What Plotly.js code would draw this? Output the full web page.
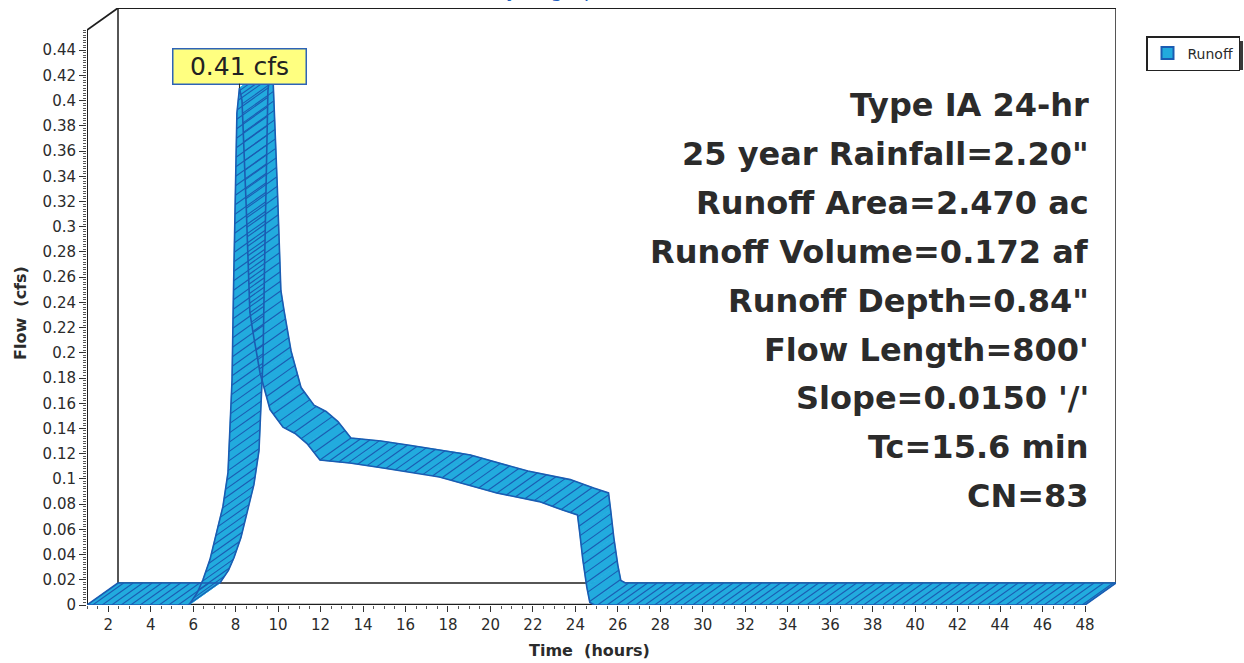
<!DOCTYPE html>
<html>
<head>
<meta charset="utf-8">
<script src="https://cdn.plot.ly/plotly-3.0.1.min.js"></script>
<style>
html,body{margin:0;padding:0;background:#fff;}
#chart{width:1244px;height:663px;}
</style>
</head>
<body>
<div id="chart"></div>
<script>
// ---------------- data ----------------
const timeHours = [1.0, 5.8, 6.2, 6.46, 6.79, 7.12, 7.4, 7.64, 7.83, 7.9, 7.97, 8.06, 8.18, 8.3, 8.5, 8.67, 8.82, 9.15, 9.62, 10.23, 10.8, 11.36, 11.97, 12.5, 13.38, 14.8, 17.15, 17.6, 20.3, 22.3, 23.4, 24.1, 24.2, 24.35, 24.54, 24.68, 24.9, 48.0];
const runoffCfs = [0, 0, 0.010, 0.020, 0.036, 0.059, 0.078, 0.105, 0.178, 0.25, 0.31, 0.39, 0.41, 0.40, 0.315, 0.232, 0.216, 0.184, 0.155, 0.141, 0.136, 0.128, 0.115, 0.114, 0.1126, 0.109, 0.103, 0.1015, 0.0888, 0.082, 0.0753, 0.0714, 0.058, 0.036, 0.014, 0.002, 0, 0];
const seriesName = "Runoff";
const xTickVals = [2,4,6,8,10,12,14,16,18,20,22,24,26,28,30,32,34,36,38,40,42,44,46,48];
const xTickText = ["2","4","6","8","10","12","14","16","18","20","22","24","26","28","30","32","34","36","38","40","42","44","46","48"];
const yTickVals = [0,0.02,0.04,0.06,0.08,0.1,0.12,0.14,0.16,0.18,0.2,0.22,0.24,0.26,0.28,0.3,0.32,0.34,0.36,0.38,0.4,0.42,0.44];
const yTickText = ["0","0.02","0.04","0.06","0.08","0.1","0.12","0.14","0.16","0.18","0.2","0.22","0.24","0.26","0.28","0.3","0.32","0.34","0.36","0.38","0.4","0.42","0.44"];
const infoLines = ["Type IA 24-hr", "25 year Rainfall=2.20\"", "Runoff Area=2.470 ac", "Runoff Volume=0.172 af", "Runoff Depth=0.84\"", "Flow Length=800'", "Slope=0.0150 '/'", "Tc=15.6 min", "CN=83"];
const chartTitle = "Hydrograph";
const xTitle = "Time\u00a0 (hours)";
const yTitle = "Flow\u00a0 (cfs)";
const peakUnit = " cfs";

// ---------------- geometry / style ----------------
const W = 1244, H = 663, ML = 87, MR = 128, MT = 8, MB = 58;
const plotW = W - ML - MR, plotH = H - MT - MB;
const X0 = 1, X1 = 48, YTOP = 0.456;
const DEPTH_X = 31, DEPTH_Y = 22;       // 3D depth offset in px
const sx = (plotW - DEPTH_X) / (X1 - X0); // px per hour
const sy = (plotH - DEPTH_Y) / YTOP;      // px per cfs
const DX = DEPTH_X / sx, DY = DEPTH_Y / sy;
const HATCH = 9.5;
const FILL = '#22abde', EDGE = '#1b5cb2', INK = '#2b2b2b';
const px2x = X => (X - ML) / plotW;
const px2y = Y => (MT + plotH - Y) / plotH;

const n = timeHours.length;
const traces = [];
// ribbon faces, one quad per segment
for (let i = 0; i < n - 1; i++) {
  traces.push({type:'scatter', mode:'lines',
    x:[timeHours[i], timeHours[i+1], timeHours[i+1] + DX, timeHours[i] + DX, timeHours[i]],
    y:[runoffCfs[i], runoffCfs[i+1], runoffCfs[i+1] + DY, runoffCfs[i] + DY, runoffCfs[i]],
    fill:'toself', fillcolor:FILL, line:{color:FILL, width:0.8}, hoverinfo:'skip', showlegend:false});
}
// hatch lines along depth direction, evenly spaced along the front curve
const hx = [], hy = [];
let pos = 0, next = HATCH * 0.6;
for (let i = 0; i < n - 1; i++) {
  const ddx = (timeHours[i+1] - timeHours[i]) * sx, ddy = (runoffCfs[i+1] - runoffCfs[i]) * sy;
  const len = Math.hypot(ddx, ddy);
  while (next <= pos + len) {
    const f = (next - pos) / len;
    const tt = timeHours[i] + f * (timeHours[i+1] - timeHours[i]);
    const vv = runoffCfs[i] + f * (runoffCfs[i+1] - runoffCfs[i]);
    hx.push(tt, tt + DX, null); hy.push(vv, vv + DY, null);
    next += HATCH;
  }
  pos += len;
}
const backX = timeHours.map(v => v + DX), backY = runoffCfs.map(v => v + DY);
const capX = [timeHours[0], backX[0], null, timeHours[n-1], backX[n-1]];
const capY = [runoffCfs[0], backY[0], null, runoffCfs[n-1], backY[n-1]];

const yMinor = []; for (let k = 0; k <= 228; k++) yMinor.push(+(k * 0.002).toFixed(3));
const xMinor = []; for (let k = 2; k <= 96; k++) xMinor.push(k * 0.5);

let imax = 0; runoffCfs.forEach((v, i) => { if (v > runoffCfs[imax]) imax = i; });

traces.push(
  {type:'scatter', mode:'lines', x:hx, y:hy, line:{color:EDGE, width:1.1}, hoverinfo:'skip', showlegend:false},
  {type:'scatter', mode:'lines', x:backX, y:backY, line:{color:EDGE, width:1.6}, hoverinfo:'skip', showlegend:false},
  {type:'scatter', mode:'lines', x:timeHours, y:runoffCfs, line:{color:EDGE, width:1.6}, hoverinfo:'skip', showlegend:false},
  {type:'scatter', mode:'lines', x:capX, y:capY, line:{color:EDGE, width:1.6}, hoverinfo:'skip', showlegend:false},
  {type:'scatter', mode:'markers', x:[null], y:[null], name:seriesName,
   marker:{symbol:'square', size:11, color:FILL, line:{color:EDGE, width:1.5}}, showlegend:true}
);

const frame = (x0, y0, x1, y1, w) => ({type:'line', xref:'x', yref:'y', x0, y0, x1, y1, layer:'below', line:{color:'#1e1e1e', width:w}});
const shapes = [
  frame(X0 + DX, DY, X0 + DX, YTOP + DY, 1.5),
  frame(X0 + DX, YTOP + DY, X1 + DX, YTOP + DY, 1.8),
  frame(X1 + DX, YTOP + DY, X1 + DX, DY, 1.5),
  frame(X0 + DX, DY, X1 + DX, DY, 1.5),
  frame(X0, 0, X1, 0, 2.5),
  frame(X0, 0, X0, YTOP, 2),
  frame(X0, YTOP, X0 + DX, YTOP + DY, 1.8),
  // legend shadow
  {type:'rect', xref:'paper', yref:'paper', x0:px2x(1151), x1:px2x(1243), y0:px2y(70), y1:px2y(41),
   fillcolor:'#3a3a3a', line:{width:0}, layer:'above'}
];

const annotations = [
  {xref:'paper', yref:'paper', x:px2x(550), y:1, yanchor:'bottom', xanchor:'center', showarrow:false, yshift:4,
   text:chartTitle, font:{size:20, color:'#1f5fbf'}},
  {xref:'paper', yref:'paper', x:px2x(589), y:px2y(650), xanchor:'center', yanchor:'middle', showarrow:false,
   text:xTitle, font:{size:16, color:INK, weight:'bold'}},
  {xref:'paper', yref:'paper', x:px2x(20), y:px2y(313), xanchor:'center', yanchor:'middle', showarrow:false,
   textangle:-90, text:yTitle, font:{size:16, color:INK, weight:'bold'}},
  {xref:'x', yref:'y', x:timeHours[imax], y:runoffCfs[imax], text:runoffCfs[imax].toFixed(2) + peakUnit,
   showarrow:true, arrowhead:0, arrowwidth:1, arrowcolor:'#222', ax:0, ay:-22, standoff:0,
   bgcolor:'#ffff80', bordercolor:'#2d63b8', borderwidth:1.5, borderpad:1, width:130, height:32,
   font:{size:25, color:'#222'}}
];
infoLines.forEach((s, i) => {
  annotations.push({xref:'paper', yref:'paper', x:px2x(1091), y:px2y(105 + i * 48.9), xanchor:'right', yanchor:'middle',
    showarrow:false, text:s, font:{size:32, color:INK, weight:'bold'}});
});

const layout = {
  width:W, height:H, margin:{l:ML, r:MR, t:MT, b:MB, pad:0, autoexpand:false},
  paper_bgcolor:'#fff', plot_bgcolor:'#fff',
  font:{family:'DejaVu Sans, Arial, sans-serif', color:INK},
  showlegend:true,
  legend:{x:px2x(1146), y:px2y(36), xanchor:'left', yanchor:'top', bgcolor:'#fff', bordercolor:'#222', borderwidth:1.5,
    font:{size:14, color:INK}, itemwidth:30, itemsizing:'constant', tracegroupgap:0},
  xaxis:{range:[X0, X1 + DX], showgrid:false, zeroline:false, showline:false, fixedrange:true, automargin:false,
    tickmode:'array', tickvals:xTickVals, ticktext:xTickText, ticks:'outside', ticklen:6, tickwidth:1, tickcolor:'#333',
    tickfont:{size:15, color:INK},
    minor:{tickmode:'array', tickvals:xMinor, ticks:'outside', ticklen:3, tickwidth:1, tickcolor:'#555', showgrid:false}},
  yaxis:{range:[0, YTOP + DY], showgrid:false, zeroline:false, showline:false, fixedrange:true, automargin:false,
    tickmode:'array', tickvals:yTickVals, ticktext:yTickText, ticks:'outside', ticklen:7, tickwidth:1, tickcolor:'#333',
    tickfont:{size:15, color:INK},
    minor:{tickmode:'array', tickvals:yMinor, ticks:'outside', ticklen:3, tickwidth:1, tickcolor:'#555', showgrid:false}},
  shapes, annotations
};

Plotly.newPlot('chart', traces, layout, {displayModeBar:false, staticPlot:true});
</script>
</body>
</html>
